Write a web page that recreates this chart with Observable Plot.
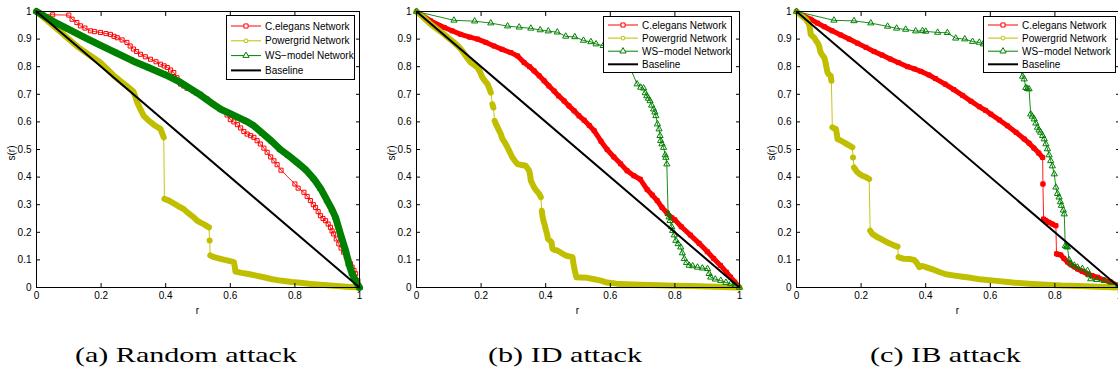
<!DOCTYPE html>
<html><head><meta charset="utf-8">
<script src="https://cdn.jsdelivr.net/npm/d3@7"></script>
<script src="https://cdn.jsdelivr.net/npm/@observablehq/plot@0.6"></script>
<style>
html,body{margin:0;padding:0;background:#fff;}
#root{position:relative;width:1118px;height:376px;overflow:hidden;background:#fff;}
.panel{position:absolute;top:0;}
.panel svg{max-width:none !important;}
.legend{position:absolute;background:#fff;border:1px solid #000;box-sizing:border-box;}
.legend svg{position:absolute;left:0;top:0;overflow:visible;}
.ylab{position:absolute;font-family:"Liberation Sans",Arial,sans-serif;font-size:10px;transform:translate(-50%,-50%) rotate(-90deg);white-space:nowrap;}
.xlab{position:absolute;font-family:"Liberation Sans",Arial,sans-serif;font-size:10px;transform:translate(-50%,-50%);}
.cap{position:absolute;top:343px;font-family:"Liberation Serif","Times New Roman",serif;font-size:21px;white-space:nowrap;transform-origin:left top;}
</style></head><body><div id="root"></div>
<script>
// ---------- tick values / labels ----------
const xTicks = [0, 0.2, 0.4, 0.6, 0.8, 1];
const yTicks = [0, 0.1, 0.2, 0.3, 0.4, 0.5, 0.6, 0.7, 0.8, 0.9, 1];
const xLabel = "r";
const yLabel = "s(r)";
const seriesNames = ["C.elegans Network", "Powergrid Network", "WS\u2212model Network", "Baseline"];
const captions = ["(a) Random attack", "(b) ID attack", "(c) IB attack"];

// ---------- (a) Random attack ----------
const randomCElegans = [[0,1],[0.02,0.988],[0.05,0.988],[0.1,0.987],[0.11,0.972],[0.125,0.96],[0.136,0.948],[0.15,0.94],[0.167,0.93],[0.18,0.927],[0.198,0.924],[0.215,0.92],[0.229,0.917],[0.24,0.91],[0.25,0.905],[0.265,0.897],[0.28,0.888],[0.29,0.875],[0.3,0.864],[0.31,0.855],[0.322,0.845],[0.337,0.836],[0.353,0.827],[0.37,0.818],[0.384,0.809],[0.395,0.803],[0.405,0.797],[0.415,0.788],[0.425,0.779],[0.435,0.76],[0.446,0.737],[0.456,0.73],[0.466,0.722],[0.487,0.711],[0.508,0.7],[0.528,0.683],[0.549,0.664],[0.57,0.646],[0.59,0.625],[0.6,0.608],[0.611,0.6],[0.622,0.59],[0.632,0.578],[0.642,0.565],[0.652,0.556],[0.663,0.55],[0.673,0.544],[0.683,0.532],[0.693,0.52],[0.704,0.505],[0.714,0.49],[0.725,0.473],[0.735,0.459],[0.745,0.445],[0.757,0.425],[0.8,0.375],[0.81,0.36],[0.828,0.345],[0.838,0.33],[0.848,0.315],[0.857,0.3],[0.864,0.29],[0.872,0.275],[0.879,0.26],[0.887,0.25],[0.895,0.242],[0.903,0.23],[0.91,0.218],[0.915,0.205],[0.92,0.194],[0.928,0.176],[0.936,0.158],[0.943,0.143],[0.951,0.128],[0.959,0.113],[0.967,0.098],[0.972,0.086],[0.977,0.074],[0.983,0.062],[0.988,0.05],[0.995,0.025],[1,0]];
const randomPowergrid = [[0,1],[0.03,0.97],[0.06,0.94],[0.095,0.905],[0.13,0.87],[0.167,0.84],[0.198,0.815],[0.22,0.79],[0.24,0.767],[0.26,0.748],[0.28,0.73],[0.3,0.71],[0.305,0.695],[0.31,0.676],[0.32,0.65],[0.332,0.622],[0.345,0.607],[0.363,0.59],[0.384,0.574],[0.394,0.544],[0.396,0.321],[0.41,0.315],[0.436,0.297],[0.456,0.284],[0.467,0.272],[0.487,0.254],[0.497,0.242],[0.508,0.235],[0.52,0.228],[0.534,0.218],[0.536,0.17],[0.538,0.116],[0.55,0.11],[0.57,0.104],[0.59,0.098],[0.611,0.092],[0.614,0.075],[0.616,0.058],[0.635,0.053],[0.652,0.05],[0.68,0.043],[0.704,0.037],[0.73,0.03],[0.755,0.025],[0.79,0.02],[0.817,0.017],[0.85,0.013],[0.869,0.011],[0.9,0.008],[0.92,0.006],[0.96,0.003],[1,0]];
const randomWS = [[0,1],[0.05,0.965],[0.1,0.935],[0.15,0.905],[0.2,0.876],[0.25,0.848],[0.3,0.82],[0.35,0.795],[0.4,0.77],[0.446,0.743],[0.5,0.703],[0.55,0.662],[0.57,0.646],[0.6,0.63],[0.65,0.602],[0.673,0.586],[0.7,0.558],[0.73,0.528],[0.755,0.5],[0.78,0.478],[0.807,0.453],[0.835,0.425],[0.859,0.393],[0.88,0.358],[0.9,0.315],[0.915,0.282],[0.926,0.254],[0.941,0.194],[0.957,0.134],[0.967,0.086],[0.977,0.05],[0.99,0.02],[1,0]];

// ---------- (b) ID attack ----------
const idCElegans = [[0,1],[0.044,0.966],[0.086,0.942],[0.11,0.93],[0.137,0.917],[0.165,0.907],[0.189,0.9],[0.215,0.888],[0.24,0.875],[0.265,0.863],[0.292,0.851],[0.313,0.839],[0.333,0.815],[0.35,0.8],[0.364,0.785],[0.38,0.767],[0.395,0.749],[0.41,0.73],[0.426,0.712],[0.44,0.694],[0.457,0.676],[0.472,0.658],[0.488,0.64],[0.503,0.622],[0.519,0.606],[0.535,0.587],[0.55,0.568],[0.571,0.53],[0.59,0.5],[0.611,0.473],[0.632,0.448],[0.652,0.423],[0.673,0.405],[0.693,0.392],[0.714,0.355],[0.73,0.335],[0.745,0.315],[0.76,0.29],[0.776,0.27],[0.79,0.253],[0.8,0.245],[0.82,0.22],[0.848,0.19],[0.875,0.16],[0.9,0.13],[0.92,0.105],[0.941,0.08],[0.96,0.055],[0.972,0.038],[0.985,0.02],[1,0]];
const idPowergrid = [[0,1],[0.02,0.98],[0.044,0.954],[0.065,0.935],[0.086,0.917],[0.1,0.903],[0.117,0.887],[0.13,0.873],[0.142,0.857],[0.155,0.835],[0.168,0.815],[0.18,0.805],[0.189,0.797],[0.197,0.78],[0.204,0.761],[0.212,0.748],[0.22,0.737],[0.226,0.72],[0.23,0.706],[0.235,0.664],[0.238,0.652],[0.242,0.604],[0.246,0.592],[0.251,0.58],[0.256,0.568],[0.261,0.556],[0.266,0.538],[0.271,0.53],[0.276,0.52],[0.282,0.507],[0.287,0.495],[0.292,0.483],[0.297,0.471],[0.305,0.458],[0.313,0.447],[0.325,0.444],[0.338,0.441],[0.349,0.423],[0.352,0.405],[0.354,0.387],[0.359,0.375],[0.364,0.363],[0.372,0.35],[0.38,0.339],[0.385,0.327],[0.388,0.278],[0.39,0.26],[0.393,0.242],[0.397,0.226],[0.4,0.212],[0.404,0.195],[0.407,0.176],[0.413,0.17],[0.418,0.164],[0.421,0.14],[0.428,0.136],[0.436,0.134],[0.45,0.124],[0.462,0.116],[0.472,0.113],[0.483,0.11],[0.486,0.086],[0.49,0.061],[0.495,0.037],[0.51,0.036],[0.529,0.035],[0.55,0.03],[0.571,0.025],[0.59,0.018],[0.62,0.014],[0.65,0.012],[0.694,0.01],[0.75,0.008],[0.797,0.006],[0.85,0.005],[0.9,0.004],[0.95,0.002],[1,0]];
const idWS = [[0,1],[0.116,0.968],[0.18,0.965],[0.23,0.958],[0.282,0.947],[0.318,0.943],[0.354,0.939],[0.383,0.933],[0.408,0.929],[0.436,0.925],[0.462,0.91],[0.49,0.908],[0.517,0.895],[0.54,0.89],[0.556,0.882],[0.578,0.876],[0.62,0.86],[0.66,0.8],[0.683,0.737],[0.694,0.725],[0.703,0.722],[0.708,0.705],[0.713,0.694],[0.718,0.685],[0.723,0.676],[0.728,0.66],[0.734,0.646],[0.738,0.635],[0.741,0.622],[0.746,0.592],[0.751,0.574],[0.754,0.55],[0.756,0.532],[0.76,0.52],[0.765,0.507],[0.77,0.48],[0.772,0.471],[0.775,0.447],[0.779,0.267],[0.782,0.255],[0.785,0.242],[0.79,0.22],[0.793,0.206],[0.798,0.19],[0.803,0.17],[0.81,0.158],[0.818,0.146],[0.823,0.125],[0.829,0.104],[0.836,0.09],[0.844,0.08],[0.855,0.078],[0.87,0.073],[0.885,0.07],[0.901,0.068],[0.906,0.05],[0.911,0.037],[0.925,0.03],[0.942,0.025],[0.958,0.018],[0.973,0.013],[0.987,0.008],[1,0]];

// ---------- (c) IB attack ----------
const ibCElegans = [[0,1],[0.02,0.985],[0.044,0.972],[0.065,0.958],[0.086,0.945],[0.11,0.93],[0.137,0.915],[0.163,0.9],[0.189,0.885],[0.215,0.87],[0.24,0.855],[0.265,0.842],[0.29,0.828],[0.315,0.815],[0.344,0.8],[0.365,0.792],[0.385,0.783],[0.41,0.77],[0.43,0.757],[0.46,0.737],[0.487,0.717],[0.514,0.696],[0.54,0.675],[0.566,0.655],[0.585,0.642],[0.602,0.628],[0.628,0.607],[0.653,0.586],[0.68,0.562],[0.705,0.538],[0.72,0.523],[0.735,0.505],[0.75,0.487],[0.762,0.471],[0.763,0.375],[0.765,0.248],[0.772,0.243],[0.782,0.236],[0.792,0.23],[0.803,0.224],[0.805,0.122],[0.81,0.12],[0.818,0.118],[0.828,0.105],[0.839,0.092],[0.85,0.082],[0.86,0.075],[0.87,0.067],[0.885,0.058],[0.901,0.049],[0.915,0.043],[0.932,0.037],[0.95,0.028],[0.973,0.019],[0.998,0.006]];
const ibPowergrid = [[0,1],[0.015,0.985],[0.029,0.972],[0.039,0.954],[0.042,0.935],[0.044,0.917],[0.05,0.91],[0.055,0.905],[0.06,0.895],[0.065,0.887],[0.07,0.875],[0.073,0.86],[0.075,0.851],[0.08,0.842],[0.086,0.833],[0.089,0.82],[0.091,0.809],[0.094,0.79],[0.096,0.779],[0.1,0.772],[0.106,0.767],[0.108,0.749],[0.111,0.58],[0.116,0.577],[0.122,0.574],[0.125,0.555],[0.127,0.538],[0.137,0.532],[0.147,0.526],[0.16,0.517],[0.173,0.508],[0.175,0.471],[0.178,0.435],[0.184,0.425],[0.189,0.417],[0.197,0.41],[0.204,0.405],[0.215,0.4],[0.225,0.393],[0.228,0.206],[0.235,0.194],[0.243,0.188],[0.251,0.182],[0.261,0.176],[0.271,0.17],[0.282,0.163],[0.292,0.158],[0.303,0.152],[0.313,0.148],[0.316,0.11],[0.325,0.106],[0.333,0.104],[0.35,0.103],[0.364,0.1],[0.372,0.09],[0.38,0.074],[0.39,0.078],[0.405,0.072],[0.421,0.066],[0.44,0.057],[0.462,0.048],[0.49,0.043],[0.514,0.039],[0.54,0.035],[0.566,0.03],[0.62,0.024],[0.669,0.018],[0.72,0.014],[0.772,0.01],[0.82,0.007],[0.875,0.005],[0.93,0.003],[0.998,0]];
const ibWS = [[0,1],[0.116,0.968],[0.178,0.966],[0.23,0.958],[0.282,0.946],[0.31,0.939],[0.338,0.935],[0.369,0.929],[0.39,0.93],[0.4,0.928],[0.437,0.924],[0.467,0.923],[0.493,0.903],[0.521,0.9],[0.545,0.891],[0.566,0.888],[0.578,0.882],[0.63,0.87],[0.68,0.83],[0.7,0.765],[0.705,0.755],[0.71,0.724],[0.715,0.72],[0.72,0.719],[0.725,0.628],[0.73,0.62],[0.736,0.61],[0.741,0.595],[0.746,0.58],[0.751,0.57],[0.756,0.562],[0.762,0.55],[0.767,0.538],[0.772,0.52],[0.777,0.502],[0.782,0.48],[0.787,0.459],[0.792,0.44],[0.798,0.411],[0.803,0.363],[0.808,0.34],[0.813,0.327],[0.817,0.31],[0.82,0.297],[0.826,0.28],[0.829,0.266],[0.832,0.151],[0.836,0.148],[0.839,0.146],[0.844,0.1],[0.849,0.086],[0.86,0.08],[0.87,0.073],[0.885,0.068],[0.901,0.061],[0.906,0.045],[0.911,0.031],[0.93,0.028],[0.952,0.025],[0.975,0.018],[0.998,0.01]];

const baseline = [[0,1],[1,0]];

// ---------- styles ----------
const RED = "#ff0000", YEL = "#bfbf00", GRN = "#008000";
const styleCE = {name: seriesNames[0], color: RED, symbol: "square", r: 2.3};
const stylePG = {name: seriesNames[1], color: YEL, symbol: "circle", r: 1.9};
const styleWS = {name: seriesNames[2], color: GRN, symbol: "triangle", r: 2.3};
const styleBL = {name: seriesNames[3], color: "#000", symbol: null, width: 2};

const panels = [
  {left: 36, series: [
    {...styleCE, pts: randomCElegans, band: 0},
    {...stylePG, pts: randomPowergrid, band: 6},
    {...styleWS, pts: randomWS, band: 7},
    {...styleBL, pts: baseline}],
   legend: {x: 226, y: 15, w: 129, h: 65, row0: 11, step: 14.8}},
  {left: 416, series: [
    {...styleCE, pts: idCElegans, band: 5},
    {...stylePG, pts: idPowergrid, band: 6},
    {...styleWS, pts: idWS, band: 0},
    {...styleBL, pts: baseline}],
   legend: {x: 223, y: 16, w: 129, h: 57, row0: 9, step: 13.1}},
  {left: 796, series: [
    {...styleCE, pts: ibCElegans, band: 5},
    {...stylePG, pts: ibPowergrid, band: 6},
    {...styleWS, pts: ibWS, band: 0},
    {...styleBL, pts: baseline}],
   legend: {x: 223, y: 16, w: 133, h: 57, row0: 9, step: 13.1}}
];

const ML = 36, MR = 14, MT = 11, MB = 40, PW = 323, PH = 276;
const fmt = d => String(+(+d).toFixed(1));
const root = document.getElementById("root");
const symbolOf = {square: d3.symbolSquare, circle: d3.symbolCircle, triangle: d3.symbolTriangle};

function withSegments(pts) {
  let seg = 0;
  return pts.map(([r, v], j) => {
    if (j > 0) {
      const [pr, pv] = pts[j - 1];
      if (Math.abs(v - pv) > 0.03 && Math.abs(r - pr) < 0.008) seg++;
    }
    return {r, v, seg};
  });
}

panels.forEach((p, i) => {
  const marks = [];
  for (const s of p.series) {
    const data = withSegments(s.pts);
    if (s.band) marks.push(Plot.line(data, {x: "r", y: "v", z: "seg", stroke: s.color, strokeWidth: s.band, strokeLinejoin: "round", strokeLinecap: "round"}));
    marks.push(Plot.line(data, {x: "r", y: "v", stroke: s.color, strokeWidth: s.width || 0.9}));
    if (s.symbol) marks.push(Plot.dot(data, {x: "r", y: "v", symbol: s.symbol, r: s.r, stroke: s.color, fill: "none", strokeWidth: 1}));
  }
  marks.push(Plot.frame({stroke: "black", strokeWidth: 1}));
  marks.push(Plot.axisX({anchor: "bottom", ticks: xTicks, tickSize: -4, tickPadding: 8, tickFormat: fmt, label: null}));
  marks.push(Plot.axisX({anchor: "top", ticks: xTicks, tickSize: -4, tickFormat: () => "", label: null}));
  marks.push(Plot.axisY({anchor: "left", ticks: yTicks, tickSize: -4, tickPadding: 9, tickFormat: fmt, label: null}));
  marks.push(Plot.axisY({anchor: "right", ticks: yTicks, tickSize: -4, tickFormat: () => "", label: null}));

  const W = ML + PW + MR, H = MT + PH + MB;
  const svg = Plot.plot({
    width: W, height: H,
    marginLeft: ML, marginRight: MR, marginTop: MT, marginBottom: MB,
    style: {fontFamily: "'Liberation Sans', Arial, sans-serif", fontSize: "10px", color: "black", background: "transparent", overflow: "visible", maxWidth: "none", width: W + "px", height: H + "px"},
    x: {domain: [0, 1]}, y: {domain: [0, 1]},
    marks
  });

  const wrap = document.createElement("div");
  wrap.className = "panel";
  wrap.style.left = (p.left - ML) + "px";
  wrap.style.width = W + "px";
  wrap.style.height = H + "px";
  wrap.appendChild(svg);
  root.appendChild(wrap);

  // legend overlay (opaque box on top of the axes)
  const L = p.legend;
  const box = document.createElement("div");
  box.className = "legend";
  box.style.left = (p.left - ML + L.x) + "px";
  box.style.top = L.y + "px";
  box.style.width = L.w + "px";
  box.style.height = L.h + "px";
  root.appendChild(box);
  const g = d3.select(box).append("svg").attr("width", L.w).attr("height", L.h);
  p.series.forEach((s, k) => {
    const y = L.row0 + k * L.step - 1;
    g.append("line").attr("x1", 4).attr("x2", 34).attr("y1", y).attr("y2", y)
      .attr("stroke", s.color).attr("stroke-width", s.width || 1);
    if (s.symbol) {
      g.append("path").attr("d", d3.symbol(symbolOf[s.symbol], Math.PI * s.r * s.r)())
        .attr("transform", `translate(19,${y})`)
        .attr("fill", "white").attr("stroke", s.color).attr("stroke-width", 1);
    }
    g.append("text").attr("x", 38).attr("y", y).attr("dy", "0.35em")
      .attr("text-anchor", "start").attr("font-size", 10)
      .attr("font-family", "'Liberation Sans', Arial, sans-serif").attr("fill", "black").text(s.name);
  });

  const yl = document.createElement("div");
  yl.className = "ylab"; yl.textContent = yLabel;
  yl.style.left = (p.left - 25) + "px"; yl.style.top = "153px";
  root.appendChild(yl);
  const xl = document.createElement("div");
  xl.className = "xlab"; xl.textContent = xLabel;
  xl.style.left = (p.left + PW / 2) + "px"; xl.style.top = "310px";
  root.appendChild(xl);
});

// captions
const capBoxes = [[75, 222], [488, 154], [870, 151]];
captions.forEach((c, i) => {
  const d = document.createElement("div");
  d.className = "cap"; d.textContent = c;
  d.style.left = capBoxes[i][0] + "px";
  root.appendChild(d);
  const w = d.getBoundingClientRect().width;
  d.style.transform = `scaleX(${capBoxes[i][1] / w})`;
});
</script>
</body></html>
